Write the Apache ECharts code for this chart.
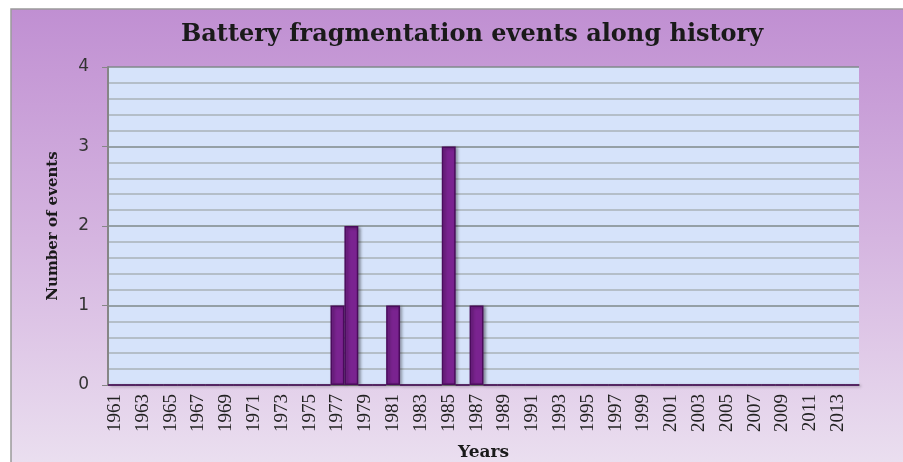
<!DOCTYPE html>
<html><head><meta charset="utf-8">
<script src="https://cdn.jsdelivr.net/npm/echarts@6/dist/echarts.min.js"></script>
<style>html,body{margin:0;padding:0;background:#fff}#c{width:903px;height:462px}</style>
</head><body><div id="c"></div>
<script>
const years = [];
for (let y = 1961; y <= 2014; y++) years.push(String(y));
const eventYears = ['1977','1978','1981','1985','1987'];
const eventCounts = [1, 2, 1, 3, 1];
const yTicks = [0, 1, 2, 3, 4];

const values = years.map(y => { const i = eventYears.indexOf(y); return i >= 0 ? eventCounts[i] : 0; });

const chart = echarts.init(document.getElementById('c'));
chart.setOption({
  animation: false,
  graphic: [{
    type: 'rect', z: -10, silent: true,
    shape: { x: 11, y: 9, width: 900, height: 460 },
    style: {
      fill: new echarts.graphic.LinearGradient(0, 0, 0, 1, [
        { offset: 0, color: '#c08fd2' },
        { offset: 0.5, color: '#d5b5e0' },
        { offset: 1, color: '#ebe0f0' }
      ]),
      stroke: '#9a9a9a', lineWidth: 1.5
    }
  }],
  title: {
    text: 'Battery fragmentation events along history',
    left: 176, top: 18,
    textStyle: { fontFamily: 'DejaVu Serif', fontWeight: 'bold', fontSize: 24, color: '#1a1a1a' }
  },
  grid: { left: 108, top: 67, right: 44, bottom: 77, show: true, backgroundColor: '#d6e3fa', borderWidth: 0,
    outerBoundsMode: 'none', containLabel: false },
  xAxis: {
    type: 'category', data: years,
    name: 'Years', nameLocation: 'middle', nameGap: 59,
    nameTextStyle: { fontFamily: 'DejaVu Serif', fontWeight: 'bold', fontSize: 17, color: '#1a1a1a' },
    axisLine: { lineStyle: { color: '#868686', width: 2 } },
    axisTick: { show: false },
    axisLabel: { interval: 1, rotate: 90, fontFamily: 'Liberation Serif', fontSize: 19, color: '#222', margin: 9 }
  },
  yAxis: {
    type: 'value', min: 0, max: 4, interval: 1,
    name: 'Number of events', nameLocation: 'middle', nameGap: 47,
    nameTextStyle: { fontFamily: 'DejaVu Serif', fontWeight: 'bold', fontSize: 15, color: '#1a1a1a' },
    axisLine: { show: true, lineStyle: { color: '#868686', width: 2 } },
    axisTick: { show: true, length: 6, lineStyle: { color: '#868686' } },
    axisLabel: { fontFamily: 'DejaVu Sans', fontSize: 17, color: '#333', margin: 19,
      formatter: v => yTicks.includes(v) ? String(v) : '' },
    splitLine: { lineStyle: { color: '#7f8a8a', width: 1.5 } },
    minorTick: { show: false, splitNumber: 5 },
    minorSplitLine: { show: true, lineStyle: { color: '#a9b3b8', width: 1.5 } }
  },
  series: [{
    type: 'bar', data: values, barCategoryGap: '0%',
    itemStyle: { color: '#7a2390', borderColor: '#4a0c5c', borderWidth: 1.5,
      shadowColor: 'rgba(0,0,0,0.35)', shadowBlur: 3, shadowOffsetX: 2, shadowOffsetY: 1 }
  }]
});
</script></body></html>
